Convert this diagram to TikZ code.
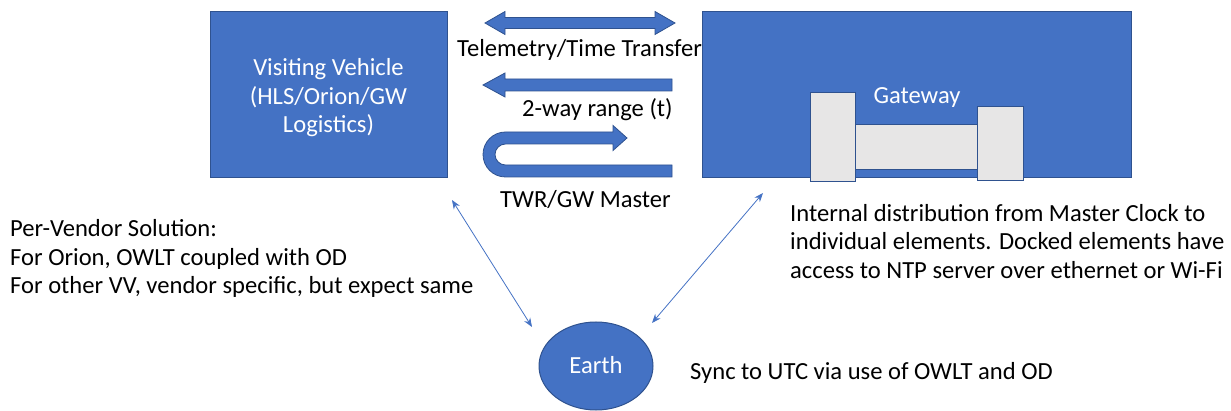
\documentclass[tikz,border=0pt]{standalone}
\usepackage{fontspec}
\setmainfont{Carlito}
\usetikzlibrary{shapes.geometric,arrows.meta}
\definecolor{obl}{HTML}{4472C4}
\definecolor{odk}{HTML}{2F528F}
\definecolor{ogr}{HTML}{E7E6E6}
\begin{document}
\begin{tikzpicture}[x=1pt,y=1pt,
  font=\fontsize{24.6}{28.5}\selectfont,
  box/.style={draw=odk,line width=1pt,fill=obl,text=white,minimum height=166pt,inner sep=0pt,align=center},
  txt/.style={inner sep=0pt,anchor=base west},
  para/.style={inner sep=0pt,anchor=north west,align=left},
  fat/.style={fill=obl,draw=odk,line width=0.8pt},
  part/.style={fill=ogr,draw=odk,line width=1pt},
  thin/.style={draw=obl,line width=0.8pt,{Stealth[length=9pt,width=7pt]}-{Stealth[length=9pt,width=7pt]}}]

\useasboundingbox (0,0) rectangle (1231,-411);

% boxes
\node[box,minimum width=237pt] (vv) at (328.5,-95) {\rule{0pt}{23pt}Visiting Vehicle\\(HLS/Orion/GW\\Logistics)};
\node[box,minimum width=429pt] (gw) at (916.5,-95) {};
\node[txt,anchor=base,text=white] (gwlabel) at (917,-104) {Gateway};

% gateway parts
\draw[part] (855,-125) rectangle (977,-170);
\draw[part] (810,-93) rectangle (855,-182);
\draw[part] (977,-107) rectangle (1023,-181);

% earth
\node[draw=odk,line width=1pt,fill=obl,text=white,ellipse,minimum width=114pt,minimum height=88pt,inner sep=0pt] (earth) at (596,-366) {\raisebox{3pt}{Earth}};

% block arrows
\filldraw[fat] (485,-23) -- (505,-11.5) -- (505,-17.5) -- (655,-17.5) -- (655,-11.5) -- (675,-23)
  -- (655,-34.5) -- (655,-28.5) -- (505,-28.5) -- (505,-34.5) -- cycle;
\filldraw[fat] (483,-85) -- (505,-73) -- (505,-79) -- (672,-79) -- (672,-91) -- (505,-91) -- (505,-97) -- cycle;
\filldraw[fat] (672,-177) -- (505.5,-177) arc[start angle=270,end angle=90,radius=22.5pt]
  -- (613,-132) -- (613,-125.5) -- (627,-138) -- (613,-150.5) -- (613,-144) -- (505.5,-144)
  arc[start angle=90,end angle=270,radius=10.5pt] -- (672,-165) -- cycle;

% labels
\node[txt] (tel) at (457,-56.7) {Telemetry/Time Transfer};
\node[txt] (rng) at (522,-116.7) {2-way range (t)};
\node[txt] (twr) at (500,-208) {TWR/GW Master};

% thin connectors
\coordinate (a1) at (452,-200);
\coordinate (a2) at (532,-327);
\coordinate (b1) at (763,-193);
\coordinate (b2) at (652,-323);
\draw[thin] (a1) -- (a2);
\draw[thin] (b1) -- (b2);

% texts
\node[para] (vendor) at (10,-219.3) {Per-Vendor Solution:\\For Orion, OWLT coupled with OD\\For other VV, vendor specific, but expect same};
\node[para] (internal) at (790,-203.8) {Internal distribution from Master Clock to\\individual elements. Docked elements have\\access to NTP server over ethernet or Wi-Fi};
\node[txt] (sync) at (690,-379) {Sync to UTC via use of OWLT and OD};
\end{tikzpicture}
\end{document}
